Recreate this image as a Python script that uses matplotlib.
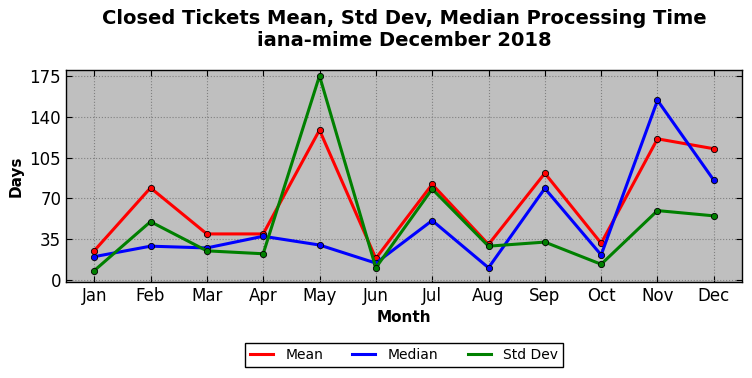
import numpy as np
import matplotlib
matplotlib.use("Agg")
import matplotlib.pyplot as plt
from matplotlib.lines import Line2D

months = ["Jan", "Feb", "Mar", "Apr", "May", "Jun", "Jul", "Aug", "Sep", "Oct", "Nov", "Dec"]
mean_days = [25, 79, 39.5, 39.5, 128.5, 18.5, 82, 30.5, 91.5, 31.5, 121, 112.5]
median_days = [20, 29, 27.5, 37.5, 30, 14.5, 51, 10.5, 78.5, 21.5, 154, 85.5]
std_days = [8, 50, 25, 22.5, 175, 10.5, 78, 29, 32.5, 13.5, 59.5, 55]

fig = plt.figure(figsize=(7.52, 3.78), dpi=100)
ax = fig.add_axes([66 / 752, 1 - 282 / 378, (742 - 66) / 752, (282 - 70) / 378])
ax.set_facecolor("#bfbfbf")

x = np.arange(len(months))
handles = []
for vals, col, name in [(mean_days, "red", "Mean"), (median_days, "blue", "Median"), (std_days, "green", "Std Dev")]:
    ax.plot(x, vals, color=col, lw=2.2, marker="o", ms=4.5, mfc=col, mec="black", mew=0.6)
    handles.append(Line2D([], [], color=col, lw=2.2, label=name))

ax.set_xlim(-0.5, 11.5)
ax.set_ylim(-1.7, 180)
ax.set_xticks(x)
ax.set_xticklabels(months)
ax.set_yticks(np.arange(0, 176, 35))
ax.tick_params(direction="in", top=True, right=True, labelsize=12, length=4)
ax.grid(True, color="#808080", linestyle=":", linewidth=0.8)
for s in ax.spines.values():
    s.set_linewidth(1.0)

ax.set_xlabel("Month", fontsize=11, fontweight="bold")
ax.set_ylabel("Days", fontsize=11, fontweight="bold")
ax.set_title("Closed Tickets Mean, Std Dev, Median Processing Time\niana-mime December 2018",
             fontsize=14, fontweight="bold", pad=17)

leg = ax.legend(handles=handles, loc="upper center", bbox_to_anchor=(0.5, -0.255), ncol=3, fancybox=False,
                edgecolor="black", fontsize=10, handlelength=1.65, columnspacing=2.1,
                handletextpad=0.9, borderpad=0.35, framealpha=1)
leg.get_frame().set_linewidth(1.0)

fig.savefig("out.png", dpi=100)
